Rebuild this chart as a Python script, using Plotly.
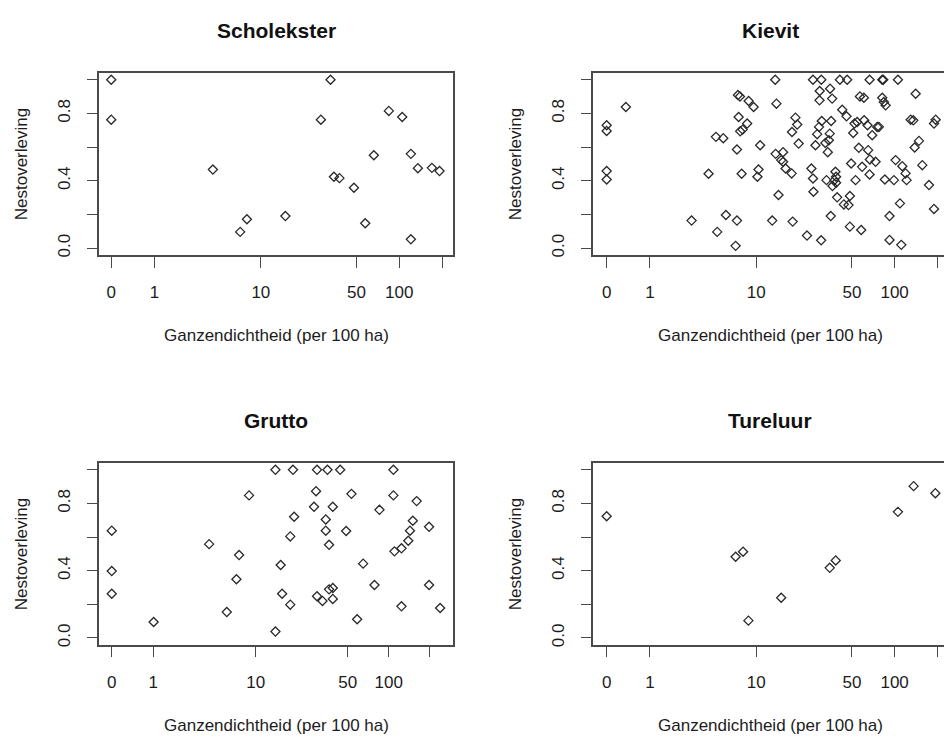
import plotly.graph_objects as go

# ---- data: goose density (per 100 ha) vs nest survival, per species ----
SPECIES = ["Scholekster", "Kievit", "Grutto", "Tureluur"]

scholekster_dens = [0, 0, 4.1, 6.9, 7.8, 15.3, 27.8, 32.6, 34.5, 37.8, 47.9, 57.6,
                    66.3, 84.6, 105, 120.8, 120.8, 135.3, 169.6, 191.8]
scholekster_nest = [1.0, 0.763, 0.467, 0.097, 0.172, 0.191, 0.763, 1.0, 0.424, 0.416,
                    0.359, 0.148, 0.552, 0.815, 0.779, 0.560, 0.053, 0.475, 0.477, 0.458]

kievit_dens = [0, 0, 0, 0, 0.36, 2.9, 4.12, 4.76, 4.88, 5.48, 5.76, 6.9, 7.07, 7.07, 7.2,
               7.29, 7.47, 7.5, 7.84, 7.7, 8.5, 8.73, 9.54, 10.2, 10.4, 10.7, 13.2, 13.9,
               14.2, 14.0, 14.7, 15.4, 15.9, 15.9, 16.6, 18.4, 18.5, 18.7, 19.6, 20.2, 20.7,
               23.8, 25.6, 26.3, 26.3, 26.5, 27.4, 28.2, 29.1, 29.3, 29.4, 30.2, 30.1, 30.4,
               32.3, 32.9, 33.6, 34.2, 34.9, 34.7, 35.3, 35.5, 36.1, 36.3, 37.5, 38.1, 38.5,
               38.5, 39.2, 41.0, 42.6, 43.8, 45.7, 46.2, 47.2, 48.3, 48.3, 49.3, 51, 52.1,
               53, 54.4, 55.9, 56.9, 58.1, 59, 60.7, 61, 64.4, 65.1, 66.6, 66.6, 66.9, 69.5,
               73.4, 75.4, 77.5, 81.8, 83.2, 81.8, 84, 86.4, 92.1, 92.1, 85.4, 98.9, 101.6,
               105.5, 109, 111.4, 113.2, 119.4, 121.4, 129.6, 135.2, 138.2, 140.5, 148.2,
               156.4, 174.2, 188.8, 188.8, 194]
kievit_nest = [0.730, 0.696, 0.458, 0.408, 0.838, 0.164, 0.442, 0.661, 0.097, 0.653, 0.197,
               0.014, 0.586, 0.164, 0.909, 0.779, 0.901, 0.694, 0.704, 0.442, 0.740, 0.874,
               0.838, 0.424, 0.467, 0.611, 0.164, 1.0, 0.858, 0.560, 0.316, 0.523, 0.570,
               0.513, 0.473, 0.444, 0.690, 0.158, 0.775, 0.734, 0.621, 0.075, 0.473, 1.0,
               0.414, 0.335, 0.611, 0.677, 0.720, 0.878, 0.933, 1.0, 0.047, 0.755, 0.625,
               0.404, 0.570, 0.641, 0.947, 0.680, 0.191, 0.755, 0.888, 0.369, 0.404, 0.454,
               0.424, 0.389, 0.302, 1.0, 0.822, 0.260, 0.783, 1.0, 0.256, 0.310, 0.128,
               0.503, 0.684, 0.740, 0.404, 0.749, 0.596, 0.901, 0.108, 0.483, 0.893, 0.759,
               0.730, 0.582, 1.0, 0.438, 0.527, 0.671, 0.513, 0.720, 0.720, 1.0, 1.0, 0.893,
               0.868, 0.848, 0.191, 0.049, 0.408, 0.404, 0.523, 1.0, 0.266, 0.020, 0.487,
               0.444, 0.404, 0.763, 0.759, 0.598, 0.917, 0.637, 0.493, 0.375, 0.233, 0.740,
               0.763]

grutto_dens = [0, 0, 0, 1.01, 4.07, 5.8, 6.99, 7.35, 8.86, 14.3, 14.3, 15.7, 16.1, 18.6,
               18.6, 19.5, 19.9, 28.1, 29.1, 29.6, 29.6, 32.5, 34.4, 34.4, 35.4, 36.4, 36.4,
               38.8, 38.8, 38.8, 44.0, 48.7, 53.3, 58.7, 65.0, 78.7, 85.6, 108.3, 108.3,
               110.2, 124, 124, 139, 143, 150, 160, 197, 197, 237]
grutto_nest = [0.638, 0.398, 0.263, 0.095, 0.558, 0.154, 0.349, 0.493, 0.848, 1.0, 0.038,
               0.434, 0.263, 0.604, 0.198, 1.0, 0.721, 0.780, 0.873, 1.0, 0.248, 0.220,
               0.705, 0.638, 1.0, 0.554, 0.289, 0.297, 0.780, 0.232, 1.0, 0.636, 0.857,
               0.111, 0.442, 0.315, 0.762, 1.0, 0.848, 0.515, 0.533, 0.188, 0.578, 0.638,
               0.697, 0.814, 0.661, 0.315, 0.178]

tureluur_dens = [0, 6.9, 7.9, 8.7, 15.4, 34.7, 38.3, 105.5, 136, 193]
tureluur_nest = [0.724, 0.483, 0.513, 0.103, 0.239, 0.417, 0.461, 0.750, 0.903, 0.861]

X_TICK_VALUES = [0, 1, 10, 50, 100, 200]
X_TICK_TEXT = ["0", "1", "10", "50", "100", ""]
Y_TICK_VALUES = [0.0, 0.2, 0.4, 0.6, 0.8, 1.0]
Y_TICK_TEXT = ["0.0", "", "0.4", "", "0.8", ""]

X_TITLE = "Ganzendichtheid (per 100 ha)"
Y_TITLE = "Nestoverleving"

# ---- page geometry (pixels) ----
W, H = 944, 738
FONT = "Liberation Sans, Arial, sans-serif"
INK = "#1c1c1c"
FRAME = "#4a4a4a"

def fx(p):
    return p / W

def fy(p):
    return 1 - p / H

# plot boxes: (left, right, top, bottom) in pixels, x-range in log10(density + 1)
panels = [
    dict(name=SPECIES[0], x=scholekster_dens, y=scholekster_nest,
         box=(99.3, 453.3, 73.3, 256.0), xr=(-0.083, 2.381), right_open=False),
    dict(name=SPECIES[1], x=kievit_dens, y=kievit_nest,
         box=(593.3, 944.0, 73.3, 256.0), xr=(-0.093, 2.348), right_open=True),
    dict(name=SPECIES[2], x=grutto_dens, y=grutto_nest,
         box=(99.3, 453.3, 465.0, 647.3), xr=(-0.090, 2.472), right_open=False),
    dict(name=SPECIES[3], x=tureluur_dens, y=tureluur_nest,
         box=(593.3, 944.0, 465.0, 647.3), xr=(-0.093, 2.348), right_open=True),
]

fig = go.Figure()
layout = dict(
    width=W, height=H,
    margin=dict(l=0, r=0, t=0, b=0),
    paper_bgcolor="white", plot_bgcolor="white",
    showlegend=False,
    font=dict(family=FONT, color=INK),
    annotations=[],
)

for i, p in enumerate(panels, start=1):
    sfx = "" if i == 1 else str(i)
    left, right, top, bottom = p["box"]
    fig.add_trace(go.Scatter(
        x=[d + 1 for d in p["x"]], y=p["y"],
        mode="markers",
        marker=dict(symbol="diamond-open", size=7, color="#2a2a2a",
                    line=dict(width=1.3, color="#2a2a2a")),
        xaxis="x" + sfx, yaxis="y" + sfx,
        hoverinfo="skip",
    ))
    layout["xaxis" + sfx] = dict(
        type="log", domain=[fx(left), fx(right)], range=list(p["xr"]),
        anchor="y" + sfx,
        tickmode="array", tickvals=[v + 1 for v in X_TICK_VALUES], ticktext=X_TICK_TEXT,
        ticks="outside", ticklen=11, tickwidth=1.4, tickcolor=FRAME,
        ticklabelstandoff=10,
        showline=True, linecolor=FRAME, linewidth=1.6, mirror=True,
        showgrid=False, zeroline=False,
        tickfont=dict(family=FONT, size=17, color=INK),
    )
    layout["yaxis" + sfx] = dict(
        domain=[fy(bottom), fy(top)], range=[-0.04, 1.04],
        anchor="x" + sfx,
        tickmode="array", tickvals=Y_TICK_VALUES, ticktext=Y_TICK_TEXT,
        tickangle=-90,
        ticks="outside", ticklen=11, tickwidth=1.4, tickcolor=FRAME,
        ticklabelstandoff=10,
        showline=True, linecolor=FRAME, linewidth=1.6,
        mirror=False if p["right_open"] else True,
        showgrid=False, zeroline=False,
        tickfont=dict(family=FONT, size=17, color=INK),
    )
    full_right = left + 354.0
    cx = (left + full_right) / 2
    cy = (top + bottom) / 2
    # panel title
    layout["annotations"].append(dict(
        text="<b>%s</b>" % p["name"], xref="paper", yref="paper",
        x=fx(cx), y=fy(top - 43), xanchor="center", yanchor="middle",
        showarrow=False, font=dict(family=FONT, size=21, color="#111111"),
    ))
    # x-axis title
    layout["annotations"].append(dict(
        text=X_TITLE, xref="paper", yref="paper",
        x=fx(cx), y=fy(bottom + 81), xanchor="center", yanchor="middle",
        showarrow=False, font=dict(family=FONT, size=17, color=INK),
    ))
    # y-axis title
    layout["annotations"].append(dict(
        text=Y_TITLE, xref="paper", yref="paper", textangle=-90,
        x=fx(left - 77), y=fy(cy), xanchor="center", yanchor="middle",
        showarrow=False, font=dict(family=FONT, size=17, color=INK),
    ))

fig.update_layout(**layout)
fig.write_html("out.html")
